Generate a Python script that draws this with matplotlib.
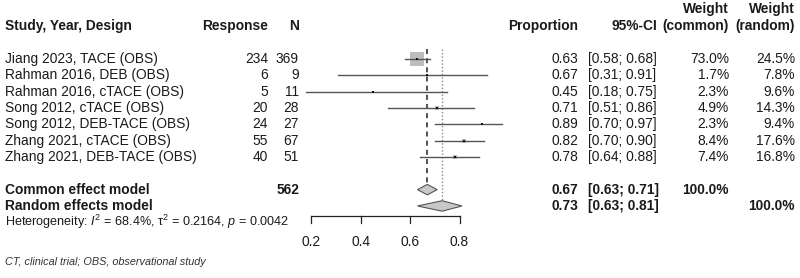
import numpy as np
import matplotlib
matplotlib.use('Agg')
import matplotlib.pyplot as plt
from matplotlib.transforms import blended_transform_factory

plt.rcParams['font.family'] = ['Liberation Sans', 'DejaVu Sans']
plt.rcParams['mathtext.fontset'] = 'custom'
plt.rcParams['mathtext.rm'] = 'Liberation Sans'
plt.rcParams['mathtext.it'] = 'Liberation Sans:italic'

# data
studies = ['Jiang 2023, TACE (OBS)', 'Rahman 2016, DEB (OBS)', 'Rahman 2016, cTACE (OBS)',
           'Song 2012, cTACE (OBS)', 'Song 2012, DEB-TACE (OBS)', 'Zhang 2021, cTACE (OBS)',
           'Zhang 2021, DEB-TACE (OBS)']
response = [234, 6, 5, 20, 24, 55, 40]
n_total = [369, 9, 11, 28, 27, 67, 51]
prop = [0.63, 0.67, 0.45, 0.71, 0.89, 0.82, 0.78]
lower = [0.58, 0.31, 0.18, 0.51, 0.70, 0.70, 0.64]
upper = [0.68, 0.91, 0.75, 0.86, 0.97, 0.90, 0.88]
w_common = [73.0, 1.7, 2.3, 4.9, 2.3, 8.4, 7.4]
w_random = [24.5, 7.8, 9.6, 14.3, 9.4, 17.6, 16.8]

common_est, common_lo, common_hi = 0.67, 0.63, 0.71
random_est, random_lo, random_hi = 0.73, 0.63, 0.81
total_n = 562
ticks = [0.2, 0.4, 0.6, 0.8]

fig = plt.figure(figsize=(8, 2.78), dpi=100)
ax = fig.add_axes([0, 0, 1, 1])
ax.set_xlim(0.2 - 311 / 247.5, 0.2 + 489 / 247.5)
ax.set_ylim((278 - 59) / 16.33, -59 / 16.33)
ax.axis('off')

tc = '#1a1a1a'
fs = 9.9
tr = blended_transform_factory(fig.transFigure, ax.transData)

def px(x):
    return x / 800

def txt(x, y, s, ha='right', bold=False, size=fs, **kw):
    ax.text(px(x), y, s, transform=tr, ha=ha, va='center', fontsize=size,
            fontweight='bold' if bold else 'normal', color=kw.pop('color', tc), **kw)

rows = np.arange(len(studies))

# reference lines
ax.plot([common_est, common_est], [-0.6, 7.7], ls=(0, (3, 2.5)), color='#333333', lw=1.2)
ax.plot([random_est, random_est], [-0.6, 8.7], ls=(0, (1, 1.5)), color='#888888', lw=1.0)

# study CIs and squares
for i in rows:
    ax.plot([lower[i], upper[i]], [i, i], color='#555555', lw=1.0, zorder=3)
    side = 14.5 * np.sqrt(w_common[i] / 73.0) * 0.72
    ax.scatter(prop[i], i, marker='s', s=side ** 2, color='#bdbdbd', lw=0, zorder=2)
    ax.scatter(prop[i], i, marker='s', s=3.5, color='#111111', lw=0, zorder=4)

# diamonds
for y, est, lo, hi in [(8, common_est, common_lo, common_hi), (9, random_est, random_lo, random_hi)]:
    h = 0.32
    ax.fill([lo, est, hi, est], [y, y - h, y, y + h], facecolor='#c8c8c8',
            edgecolor='#555555', lw=0.8, zorder=4)

# axis
ay = 9.6
ax.plot([ticks[0], ticks[-1]], [ay, ay], color='#222222', lw=0.9)
for t in ticks:
    ax.plot([t, t], [ay, ay + 0.45], color='#222222', lw=0.9)
    ax.text(t, 11.2, f'{t:.1f}', ha='center', va='center', fontsize=fs, color=tc)

# headers
txt(5, -2, 'Study, Year, Design', ha='left', bold=True)
txt(268, -2, 'Response', bold=True)
txt(299, -2, 'N', bold=True)
txt(578, -2, 'Proportion', bold=True)
txt(657, -2, '95%-CI', bold=True)
txt(729, -3.05, 'Weight', bold=True)
txt(729, -2, '(common)', bold=True)
txt(795, -3.05, 'Weight', bold=True)
txt(795, -2, '(random)', bold=True)

# study rows
for i in rows:
    txt(5, i, studies[i], ha='left')
    txt(268, i, str(response[i]))
    txt(299, i, str(n_total[i]))
    txt(578, i, f'{prop[i]:.2f}')
    txt(588, i, f'[{lower[i]:.2f}; {upper[i]:.2f}]', ha='left')
    txt(729, i, f'{w_common[i]:.1f}%')
    txt(795, i, f'{w_random[i]:.1f}%')

# summary rows
txt(5, 8, 'Common effect model', ha='left', bold=True)
txt(299, 8, str(total_n), bold=True)
txt(578, 8, f'{common_est:.2f}', bold=True)
txt(588, 8, f'[{common_lo:.2f}; {common_hi:.2f}]', ha='left', bold=True)
txt(729, 8, '100.0%', bold=True)

txt(5, 9, 'Random effects model', ha='left', bold=True)
txt(578, 9, f'{random_est:.2f}', bold=True)
txt(588, 9, f'[{random_lo:.2f}; {random_hi:.2f}]', ha='left', bold=True)
txt(795, 9, '100.0%', bold=True)

txt(5, 10, r'Heterogeneity: $I^2$ = 68.4%, τ$^2$ = 0.2164, $p$ = 0.0042', ha='left', size=9.1)

txt(5, 12.45, 'CT, clinical trial; OBS, observational study', ha='left', size=7.8,
    style='italic', color='#333333')

fig.savefig('out.png', dpi=100)
